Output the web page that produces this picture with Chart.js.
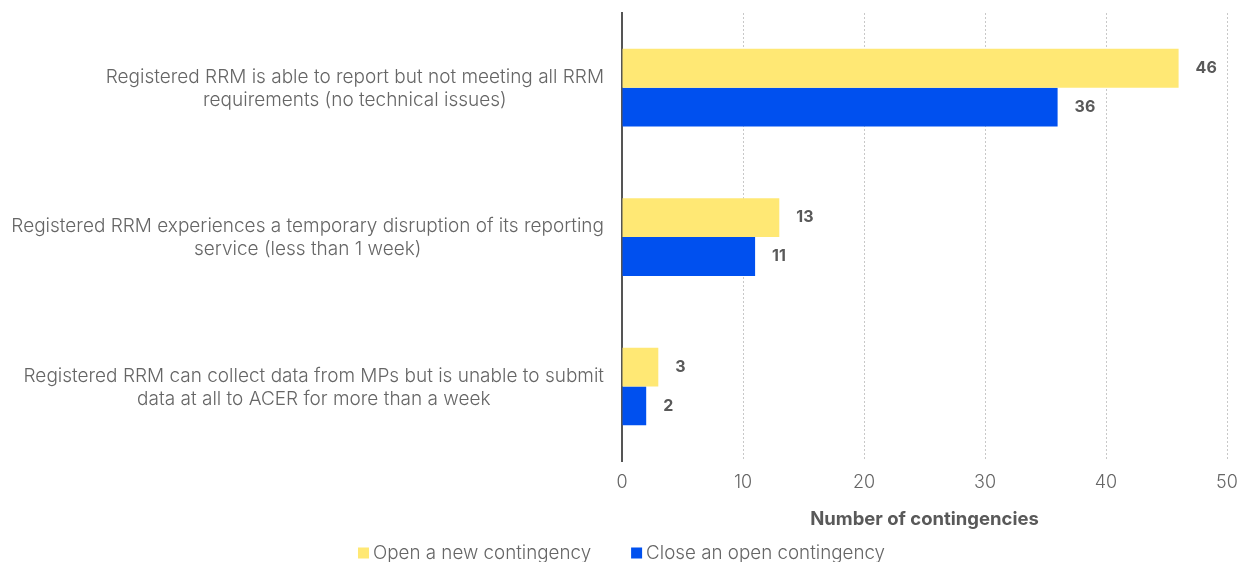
<!DOCTYPE html>
<html>
<head>
<meta charset="utf-8">
<script src="https://cdn.jsdelivr.net/npm/chart.js@4"></script>
<style>
  html, body { margin: 0; padding: 0; background: #fff; overflow: hidden; }
  #wrap { width: 1241px; height: 570px; position: relative; }
</style>
</head>
<body>
<div id="wrap"><canvas id="myChart"></canvas></div>
<script>
// contingencies by situation and action

var categorias = [
    ['Registered RRM is able to report but not meeting all RRM', 'requirements (no technical issues)'],
    ['Registered RRM experiences a temporary disruption of its reporting', 'service (less than 1 week)'],
    ['Registered RRM can collect data from MPs but is unable to submit', 'data at all to ACER for more than a week']
];
var abrir = [46, 13, 3];
var cerrar = [36, 11, 2];
var label1 = 'Open a new contingency';
var label2 = 'Close an open contingency';
var ticks_x = [0, 10, 20, 30, 40, 50];

var FONT = 'Inter, "Noto Sans", sans-serif';
var GRIS = '#666666';

// numbers at the end of each bar
var etiquetas = {
    id: 'etiquetas',
    afterDatasetsDraw: function (chart) {
        var ctx = chart.ctx;
        ctx.save();
        ctx.font = 'bold 16px ' + FONT;
        ctx.fillStyle = '#595959';
        ctx.textBaseline = 'middle';
        ctx.textAlign = 'left';
        chart.data.datasets.forEach(function (ds, i) {
            chart.getDatasetMeta(i).data.forEach(function (bar, j) {
                ctx.fillText(ds.data[j], bar.x + 17, bar.y);
            });
        });
        ctx.restore();
    }
};

// category labels: block right aligned next to the axis, lines centred inside it
var categorias_y = {
    id: 'categorias_y',
    afterDraw: function (chart) {
        var ctx = chart.ctx;
        var escala = chart.scales.y;
        var alto = 23;
        ctx.save();
        ctx.font = '300 19px ' + FONT;
        ctx.fillStyle = GRIS;
        ctx.textBaseline = 'middle';
        ctx.textAlign = 'center';
        chart.data.labels.forEach(function (lineas, i) {
            var y = escala.getPixelForTick(i);
            var ancho = Math.max.apply(null, lineas.map(function (l) { return ctx.measureText(l).width; }));
            var cx = escala.right - 18 - ancho / 2;
            var y0 = y - (lineas.length - 1) * alto / 2 + 1;
            lineas.forEach(function (l, k) {
                ctx.fillText(l, cx, y0 + k * alto);
            });
        });
        ctx.restore();
    }
};

// legend at the bottom, small square and close text
var leyenda = {
    id: 'leyenda',
    afterDraw: function (chart) {
        var ctx = chart.ctx;
        ctx.save();
        ctx.font = '300 18.8px ' + FONT;
        ctx.textBaseline = 'middle';
        var y = 553;
        var caja = 11, hueco = 4, sep = 40;
        var items = chart.data.datasets.map(function (ds) {
            return { txt: ds.label, col: ds.backgroundColor, w: ctx.measureText(ds.label).width };
        });
        var total = 0;
        items.forEach(function (it, k) { total += caja + hueco + it.w + (k > 0 ? sep : 0); });
        var x = (chart.width - total) / 2 + 1;
        items.forEach(function (it) {
            ctx.fillStyle = it.col;
            ctx.fillRect(x, y - caja / 2, caja, caja);
            ctx.fillStyle = GRIS;
            ctx.textAlign = 'left';
            ctx.fillText(it.txt, x + caja + hueco, y);
            x += caja + hueco + it.w + sep;
        });
        ctx.restore();
    }
};

var ctx = document.getElementById('myChart').getContext('2d');
var myChart = new Chart(ctx, {
    type: 'bar',
    data: {
        labels: categorias,
        datasets: [{
            label: label1,
            data: abrir,
            backgroundColor: '#FFE874',
            borderWidth: 0,
            barPercentage: 1,
            categoryPercentage: 0.52
        },
        {
            label: label2,
            data: cerrar,
            backgroundColor: '#0050EF',
            borderWidth: 0,
            barPercentage: 1,
            categoryPercentage: 0.52
        }]
    },
    options: {
        indexAxis: 'y',
        responsive: true,
        maintainAspectRatio: false,
        animation: false,
        layout: {
            padding: { top: 13, right: 14, bottom: 37, left: 0 }
        },
        plugins: {
            legend: { display: false },
            tooltip: { enabled: false }
        },
        scales: {
            x: {
                min: 0,
                max: 50,
                afterBuildTicks: function (scale) {
                    scale.ticks = ticks_x.map(function (v) { return { value: v }; });
                },
                afterFit: function (scale) {
                    scale.paddingLeft = 0;
                    scale.paddingRight = 0;
                },
                grid: {
                    color: function (c) { return c.tick && c.tick.value === 0 ? 'rgba(0,0,0,0)' : '#c8c8c8'; },
                    lineWidth: 1,
                    drawTicks: false
                },
                border: { display: false, dash: [2, 2] },
                ticks: {
                    padding: 11,
                    color: GRIS,
                    font: { family: FONT, size: 18, weight: 300 }
                },
                title: {
                    display: true,
                    text: 'Number of contingencies',
                    color: '#595959',
                    font: { family: FONT, size: 18.5, weight: 'bold' },
                    padding: { top: 4, bottom: 2 }
                }
            },
            y: {
                grid: { display: false, drawTicks: false },
                border: { display: true, color: '#555555', width: 2 },
                afterFit: function (scale) {
                    scale.width = 622;
                    scale.paddingTop = 0;
                    scale.paddingBottom = 0;
                },
                ticks: {
                    display: false
                }
            }
        }
    },
    plugins: [etiquetas, categorias_y, leyenda]
});
</script>
</body>
</html>
